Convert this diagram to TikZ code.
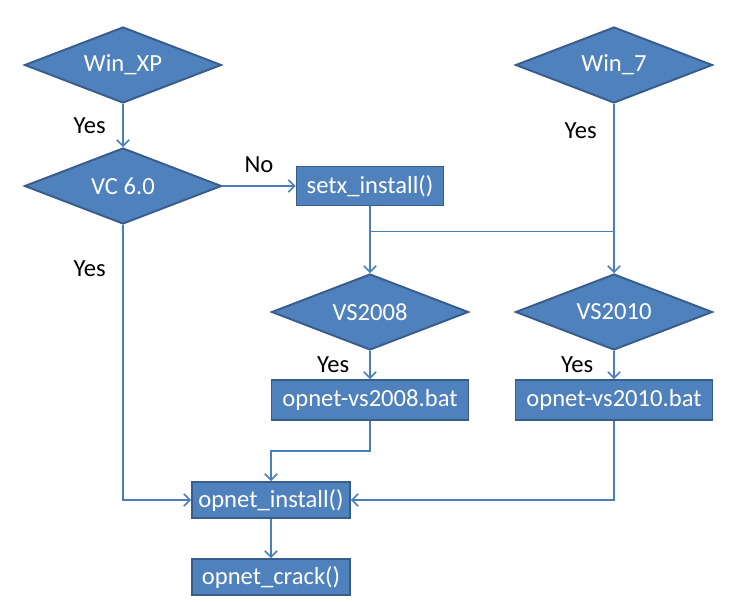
\documentclass[tikz,border=0pt]{standalone}
\usepackage{fontspec}
\setmainfont{Carlito}
\usepackage{xcolor}
\definecolor{boxfill}{RGB}{79,129,189}
\definecolor{boxline}{RGB}{56,93,138}
\definecolor{linecol}{RGB}{74,126,187}
\usepackage{tikz}
\usetikzlibrary{shapes.geometric,arrows.meta,positioning}

\begin{document}
\begin{tikzpicture}[node distance=2.42cm, auto,
    font=\fontsize{14}{16}\selectfont,
    decision/.style={diamond, draw=boxline, line width=1.1pt, fill=boxfill, text=white, aspect=2.6, minimum width=3.94cm, minimum height=1.52cm, inner sep=1pt},
    block/.style={rectangle, draw=boxline, line width=1.1pt, fill=boxfill, text=white, minimum width=3.94cm, minimum height=0.8cm, inner sep=2pt},
    line/.style={draw=linecol, line width=0.9pt, -{Straight Barb[length=3.5pt,width=7pt]}},
    link/.style={draw=linecol, line width=0.9pt}]
    \useasboundingbox (-2.46,1.30) rectangle (12.12,-10.74);

    % Windows XP branch
    \node [decision] (winxp) {Win\_XP};
    \node [decision, below of=winxp] (vc) {VC 6.0};
    \node [block, node distance=4.94cm, right of=vc, minimum width=2.94cm, minimum height=0.78cm] (setx) {setx\_install()};

    % Windows 7 branch
    \node [decision, node distance=9.82cm, right of=winxp] (win7) {Win\_7};

    % Visual Studio checks
    \node [decision, node distance=2.52cm, below of=setx] (vs2008) {VS2008};
    \node [decision, node distance=4.94cm, below of=win7] (vs2010) {VS2010};
    \node [block, node distance=1.76cm, below of=vs2008] (bat08) {opnet-vs2008.bat};
    \node [block, node distance=1.76cm, below of=vs2010] (bat10) {opnet-vs2010.bat};

    % Install steps
    \node [block, node distance=2cm, below of=bat08, xshift=-1.98cm, minimum width=3.16cm, minimum height=0.72cm] (install) {opnet\_install()};
    \node [block, node distance=1.54cm, below of=install, minimum width=3.16cm, minimum height=0.72cm] (crack) {opnet\_crack()};
    \coordinate [below=0.5cm of setx.south] (split);

    % Connections
    \path [line] (winxp) -- node [left, xshift=-6pt] {Yes} (vc);
    \path [line] (vc) -- node [above, yshift=4pt] {No} (setx);
    \path [line] (vc.south) |- node [pos=0.08, left, xshift=-6pt] {Yes} (install.west);
    \path [line] (setx) -- (vs2008);
    \path [link] (split) -- (split -| win7.south);
    \path [line] (win7) -- node [pos=0.16, left, xshift=-6pt] {Yes} (vs2010);
    \path [line] (vs2008) -- node [left, xshift=-8pt] {Yes} (bat08);
    \path [line] (vs2010) -- node [left, xshift=-8pt] {Yes} (bat10);
    \path [line] (bat08.south) -- ++(0,-0.6) -| (install.north);
    \path [line] (bat10.south) |- (install.east);
    \path [line] (install) -- (crack);
\end{tikzpicture}
\end{document}
